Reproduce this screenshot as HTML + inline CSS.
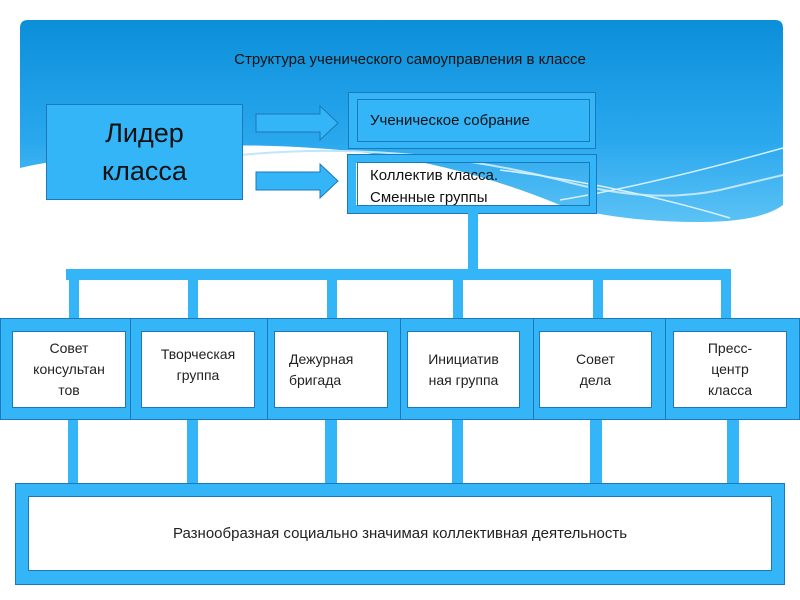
<!DOCTYPE html>
<html><head><meta charset="utf-8"><style>
body{margin:0;width:800px;height:600px;background:#fff;position:relative;overflow:hidden;font-family:"Liberation Sans","DejaVu Sans",sans-serif;color:#222}
.a{position:absolute;box-sizing:border-box}
.b{background:#33b5f8}
.fr{border:1.5px solid #1c78b8}
.t{display:flex;align-items:center;justify-content:center;text-align:center;font-size:14px;line-height:21px}
</style></head><body>
<svg class="a" style="left:0;top:0" width="800" height="600">
<defs><linearGradient id="g" x1="0" y1="0" x2="0" y2="1">
<stop offset="0" stop-color="#0b8fd9"/><stop offset="0.6" stop-color="#2aa8ee"/><stop offset="1" stop-color="#5cc2f5"/></linearGradient></defs>
<path d="M28 20 H775 Q783 20 783 28 V205 Q760 222 700 222 Q620 222 560 205 Q450 160 340 150 Q220 140 150 152 Q60 158 20 168 V28 Q20 20 28 20Z" fill="url(#g)"/>
<path d="M240 155 Q400 140 560 180 Q650 205 720 190 L783 175" stroke="#bfe6fb" stroke-width="2" fill="none"/>
<path d="M560 200 Q650 185 783 148" stroke="#d8f0fc" stroke-width="1.5" fill="none"/>
<path d="M500 170 Q620 185 730 218" stroke="#d8f0fc" stroke-width="1.5" fill="none"/>
<path d="M256 114 H320 V106 L338 123 L320 140 V132 H256Z" fill="#33b5f8" stroke="#1c78b8"/>
<path d="M256 172 H320 V164 L338 181 L320 198 V190 H256Z" fill="#33b5f8" stroke="#1c78b8"/>
</svg>
<div class="a" style="left:0;top:51px;width:820px;text-align:center;font-size:15px;color:#111">Структура ученического самоуправления в классе</div>
<div class="a b fr t" style="left:46px;top:104px;width:197px;height:96px;font-size:27px;line-height:38px;color:#111">Лидер<br>класса</div>
<div class="a b fr" style="left:348px;top:92px;width:248px;height:57px"></div>
<div class="a fr" style="left:357px;top:99px;width:233px;height:43px;font-size:15px;padding:12px 0 0 12px;color:#111">Ученическое собрание</div>
<div class="a" style="left:348px;top:155px;width:248px;height:58px;border:8px solid #33b5f8;outline:1.5px solid #1c78b8"></div>
<div class="a fr" style="left:357px;top:162px;width:233px;height:44px;font-size:15px;line-height:22px;padding:2px 0 0 12px;color:#111">Коллектив класса.<br>Сменные группы</div>
<div class="a b" style="left:468px;top:212px;width:10px;height:60px"></div>
<div class="a b" style="left:66px;top:269px;width:665px;height:11px"></div>
<div class="a b" style="left:69px;top:280px;width:10px;height:40px"></div>
<div class="a b" style="left:188px;top:280px;width:10px;height:40px"></div>
<div class="a b" style="left:327px;top:280px;width:10px;height:40px"></div>
<div class="a b" style="left:453px;top:280px;width:10px;height:40px"></div>
<div class="a b" style="left:593px;top:280px;width:10px;height:40px"></div>
<div class="a b" style="left:721px;top:280px;width:10px;height:40px"></div>
<div class="a b" style="left:68px;top:419px;width:10px;height:66px"></div>
<div class="a b" style="left:187px;top:419px;width:11px;height:66px"></div>
<div class="a b" style="left:325px;top:419px;width:12px;height:66px"></div>
<div class="a b" style="left:452px;top:419px;width:11px;height:66px"></div>
<div class="a b" style="left:590px;top:419px;width:12px;height:66px"></div>
<div class="a b" style="left:727px;top:419px;width:12px;height:66px"></div>
<div class="a b fr" style="left:0;top:318px;width:131px;height:102px"></div>
<div class="a b fr" style="left:130px;top:318px;width:138px;height:102px"></div>
<div class="a b fr" style="left:267px;top:318px;width:134px;height:102px"></div>
<div class="a b fr" style="left:400px;top:318px;width:134px;height:102px"></div>
<div class="a b fr" style="left:533px;top:318px;width:133px;height:102px"></div>
<div class="a b fr" style="left:665px;top:318px;width:135px;height:102px"></div>
<div class="a fr t" style="left:12px;top:331px;width:114px;height:77px;background:#fff">Совет<br>консультан<br>тов</div>
<div class="a fr t" style="left:141px;top:331px;width:114px;height:77px;background:#fff;align-items:flex-start;padding-top:12px">Творческая<br>группа</div>
<div class="a fr t" style="left:274px;top:331px;width:114px;height:77px;background:#fff;justify-content:flex-start;padding-left:14px;text-align:left">Дежурная<br>бригада</div>
<div class="a fr t" style="left:407px;top:331px;width:113px;height:77px;background:#fff">Инициатив<br>ная группа</div>
<div class="a fr t" style="left:539px;top:331px;width:113px;height:77px;background:#fff">Совет<br>дела</div>
<div class="a fr t" style="left:673px;top:331px;width:114px;height:77px;background:#fff">Пресс-<br>центр<br>класса</div>
<div class="a b fr" style="left:15px;top:483px;width:770px;height:102px"></div>
<div class="a fr t" style="left:28px;top:496px;width:744px;height:75px;background:#fff;font-size:15px">Разнообразная социально значимая коллективная деятельность</div>
</body></html>
